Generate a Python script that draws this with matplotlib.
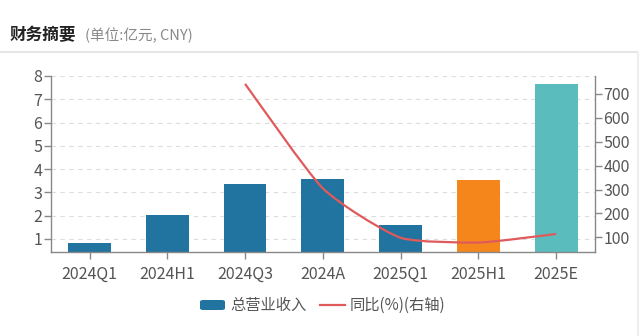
import matplotlib
matplotlib.use("Agg")
import matplotlib.pyplot as plt
from matplotlib.path import Path
from matplotlib.patches import PathPatch, FancyBboxPatch
from matplotlib.lines import Line2D
import numpy as np

plt.rcParams['font.family'] = ['Noto Sans CJK SC', 'DejaVu Sans']

categories = ['2024Q1', '2024H1', '2024Q3', '2024A', '2025Q1', '2025H1', '2025E']
revenue = [0.82, 2.02, 3.38, 3.58, 1.60, 3.53, 7.65]
yoy = [None, None, 742, 305, 98, 78, 114]
bar_colors = ['#21749f', '#21749f', '#21749f', '#21749f', '#21749f', '#f5861c', '#5bbcbd']
left_ticks = [1, 2, 3, 4, 5, 6, 7, 8]
right_ticks = [100, 200, 300, 400, 500, 600, 700]

fig = plt.figure(figsize=(6.4, 3.36), dpi=100)
ax = fig.add_axes([50.7/640, 1-252/336, (595-50.7)/640, (252-76)/336])
ax2 = ax.twinx()

x = np.arange(len(categories))
ax.bar(x, revenue, width=0.55, color=bar_colors, zorder=2)
ax.set_xlim(-0.5, len(categories)-0.5)
ax.set_ylim(0.44, 8.0)
ax.set_yticks(left_ticks)
ax.set_xticks(x)
ax.set_xticklabels(categories)
ax.yaxis.grid(True, linestyle=(0, (4, 4)), color='#dddddd', linewidth=0.8, zorder=0)
ax.set_axisbelow(True)

axis_col = '#888888'
for a in (ax, ax2):
    a.spines['top'].set_visible(False)
    for s in ('left', 'right', 'bottom'):
        a.spines[s].set_color(axis_col)
        a.spines[s].set_linewidth(1.0)
    a.tick_params(colors='#555555', labelsize=11.5, length=5, width=1.0)
    a.tick_params(axis='both', color=axis_col)
ax.spines['right'].set_visible(False)
ax2.spines['left'].set_visible(False)
ax2.spines['bottom'].set_visible(False)
ax.tick_params(axis='x', pad=5)
ax.tick_params(axis='y', pad=1)
ax2.tick_params(axis='y', pad=1)

ax2.set_ylim(38.5, 775)
ax2.set_yticks(right_ticks)

# smooth line through yoy points (light bezier smoothing)
pts = [(xi, yi) for xi, yi in zip(x, yoy) if yi is not None]
pts = np.array(pts, dtype=float)
verts = [tuple(pts[0])]
codes = [Path.MOVETO]
t = 0.2
n = len(pts)
for i in range(n-1):
    p0 = pts[i-1] if i > 0 else pts[i]
    p1 = pts[i]
    p2 = pts[i+1]
    p3 = pts[i+2] if i+2 < n else pts[i+1]
    c1 = p1 + (p2 - p0) * t / 2
    c2 = p2 - (p3 - p1) * t / 2
    lo, hi = min(p1[1], p2[1]), max(p1[1], p2[1])
    c1[1] = min(max(c1[1], lo), hi)
    c2[1] = min(max(c2[1], lo), hi)
    verts += [tuple(c1), tuple(c2), tuple(p2)]
    codes += [Path.CURVE4]*3
line_color = '#e05a5c'
ax2.add_patch(PathPatch(Path(verts, codes), fill=False, edgecolor=line_color, linewidth=1.6, zorder=3))

# title
fig.text(10/640, 1-35/336, '财务摘要', fontsize=12, fontweight='bold', color='#222222', va='center', ha='left')
fig.text(85/640, 1-35/336, '(单位:亿元, CNY)', fontsize=10.5, color='#888888', va='center', ha='left')
fig.add_artist(Line2D([0, 637/640], [1-52/336, 1-52/336], color='#e6e6e6', linewidth=1.5))
fig.add_artist(Line2D([638/640, 638/640], [0, 1-52/336], color='#eeeeee', linewidth=1.5))

# legend
ly = 1-305/336
fig.add_artist(FancyBboxPatch((200/640, ly-5/336), 25/640, 10/336,
                              boxstyle='round,pad=0,rounding_size=0.005',
                              facecolor='#21749f', edgecolor='none'))
fig.text(230/640, ly, '总营业收入', fontsize=11, color='#555555', va='center', ha='left')
fig.add_artist(Line2D([320/640, 345/640], [ly, ly], color=line_color, linewidth=1.6))
fig.text(350/640, ly, '同比(%)(右轴)', fontsize=11, color='#555555', va='center', ha='left')

fig.savefig('out.png', dpi=100)
